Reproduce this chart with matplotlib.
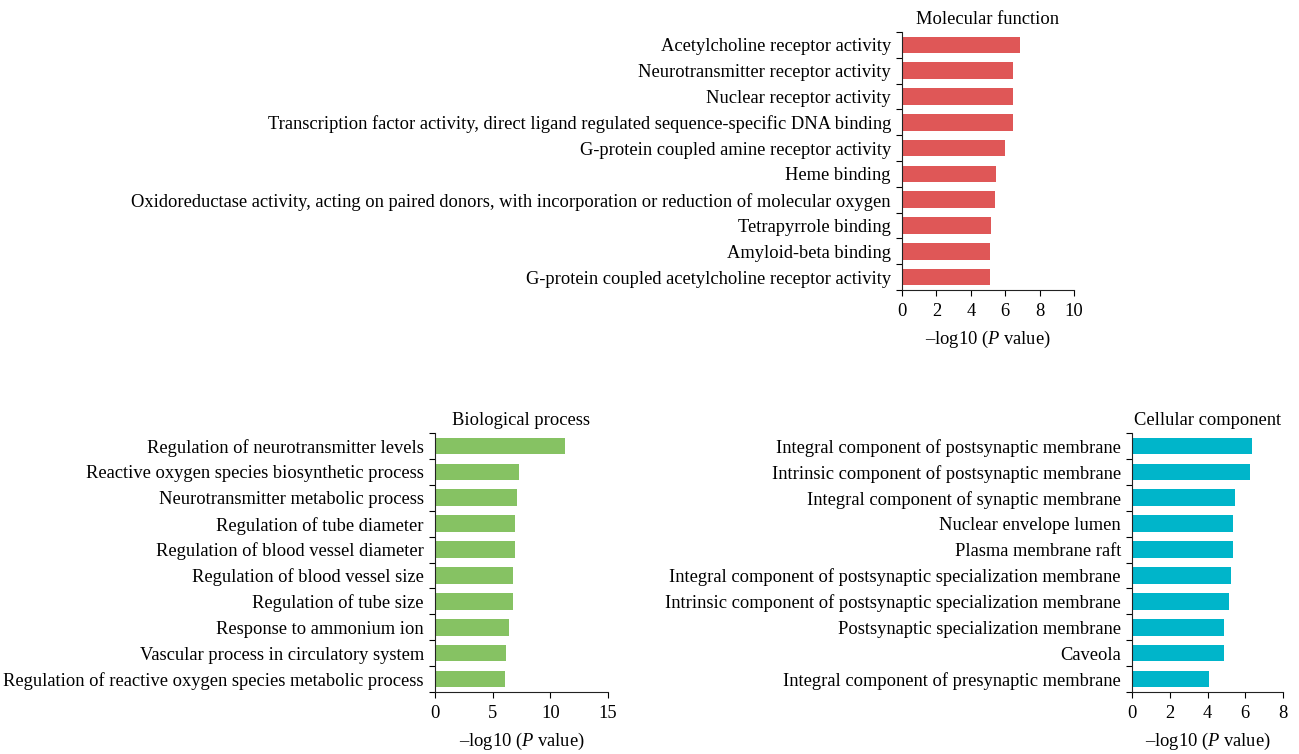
import matplotlib
matplotlib.use("Agg")
import matplotlib.pyplot as plt
import numpy as np

plt.rcParams['font.family'] = ['Liberation Serif', 'DejaVu Serif']
plt.rcParams['mathtext.fontset'] = 'custom'
plt.rcParams['mathtext.it'] = 'Liberation Serif:italic'
plt.rcParams['mathtext.rm'] = 'Liberation Serif'

# GO enrichment, top 10 terms per category (-log10 P)
mf_terms = [
    "Acetylcholine receptor activity",
    "Neurotransmitter receptor activity",
    "Nuclear receptor activity",
    "Transcription factor activity, direct ligand regulated sequence-specific DNA binding",
    "G-protein coupled amine receptor activity",
    "Heme binding",
    "Oxidoreductase activity, acting on paired donors, with incorporation or reduction of molecular oxygen",
    "Tetrapyrrole binding",
    "Amyloid-beta binding",
    "G-protein coupled acetylcholine receptor activity",
]
mf_vals = [6.88, 6.43, 6.43, 6.43, 6.0, 5.48, 5.39, 5.19, 5.10, 5.10]

bp_terms = [
    "Regulation of neurotransmitter levels",
    "Reactive oxygen species biosynthetic process",
    "Neurotransmitter metabolic process",
    "Regulation of tube diameter",
    "Regulation of blood vessel diameter",
    "Regulation of blood vessel size",
    "Regulation of tube size",
    "Response to ammonium ion",
    "Vascular process in circulatory system",
    "Regulation of reactive oxygen species metabolic process",
]
bp_vals = [11.28, 7.28, 7.11, 6.93, 6.93, 6.76, 6.76, 6.41, 6.15, 6.06]

cc_terms = [
    "Integral component of postsynaptic membrane",
    "Intrinsic component of postsynaptic membrane",
    "Integral component of synaptic membrane",
    "Nuclear envelope lumen",
    "Plasma membrane raft",
    "Integral component of postsynaptic specialization membrane",
    "Intrinsic component of postsynaptic specialization membrane",
    "Postsynaptic specialization membrane",
    "Caveola",
    "Integral component of presynaptic membrane",
]
cc_vals = [6.35, 6.25, 5.45, 5.35, 5.35, 5.24, 5.13, 4.87, 4.87, 4.07]

W, H = 1299, 754
FS = 13.3
fig = plt.figure(figsize=(W / 100, H / 100), dpi=100)


def panel(x0, x1, y0, y1, terms, vals, color, title, xmax, step):
    ax = fig.add_axes([x0 / W, 1 - y1 / H, (x1 - x0) / W, (y1 - y0) / H])
    n = len(terms)
    pos = np.arange(n)
    ax.barh(pos, vals, height=0.64, color=color)
    ax.set_ylim(n - 0.5, -0.5)
    ax.set_xlim(0, xmax)
    ax.set_yticks(pos)
    ax.set_yticklabels(terms, fontsize=FS)
    ax.tick_params(axis='y', length=0, pad=8)
    ax.set_yticks(np.arange(n + 1) - 0.5, minor=True)
    ax.tick_params(axis='y', which='minor', length=4, width=0.8, direction='out')
    ax.set_xticks(np.arange(0, xmax + 0.01, step))
    ax.tick_params(axis='x', length=4, width=0.8, labelsize=FS, pad=5)
    for s in ['top', 'right']:
        ax.spines[s].set_visible(False)
    for s in ['left', 'bottom']:
        ax.spines[s].set_linewidth(0.8)
        ax.spines[s].set_color('#222222')
    ax.set_xlabel(r"–log10 ($\mathit{P}$ value)", fontsize=FS, labelpad=7)
    ax.set_title(title, fontsize=FS, pad=6)
    return ax


panel(902, 1074, 32, 290, mf_terms, mf_vals, '#DF5757', 'Molecular function', 10, 2)
panel(435, 608, 433, 692, bp_terms, bp_vals, '#86C263', 'Biological process', 15, 5)
panel(1132, 1283, 433, 692, cc_terms, cc_vals, '#00B5CA', 'Cellular component', 8, 2)

fig.savefig('out.png', dpi=100)
